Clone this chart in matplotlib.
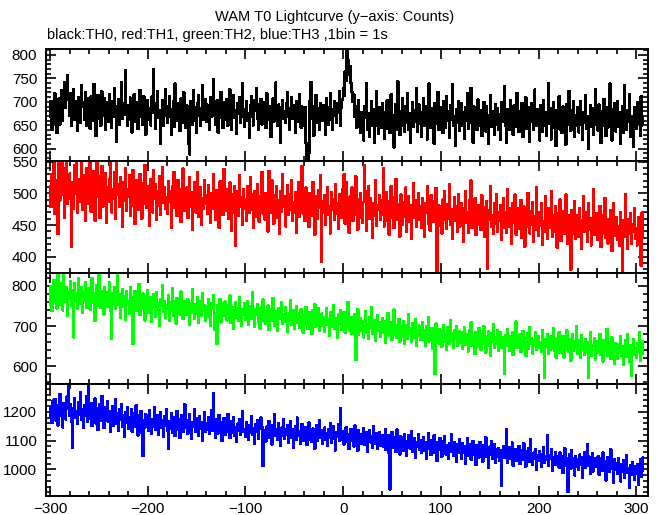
import numpy as np
import matplotlib
matplotlib.use("Agg")
import matplotlib.pyplot as plt
from matplotlib.ticker import MultipleLocator

plt.rcParams['font.family'] = ['Liberation Sans', 'DejaVu Sans']

# WAM T0 light curves, 1 bin = 1 s, first bin at t = -300 s
T_START = -300

th0 = [
    668, 702, 641, 690, 655, 718, 676, 633, 694, 707, 652, 681, 725, 660, 699, 742, 688, 731, 756, 704,
    671, 719, 648, 693, 726, 662, 701, 684, 639, 710, 677, 655, 735, 689, 700, 662, 721, 648, 690, 708,
    676, 643, 712, 694, 660, 738, 681, 627, 703, 715, 664, 689, 649, 722, 695, 671, 708, 640, 686, 699,
    658, 717, 682, 645, 701, 668, 730, 690, 614, 676, 705, 652, 687, 741, 663, 698, 672, 767, 684, 649,
    693, 661, 709, 679, 635, 688, 716, 657, 700, 674, 642, 696, 725, 668, 683, 651, 712, 689, 630, 670,
    704, 662, 687, 650, 711, 677, 769, 690, 643, 698, 722, 665, 682, 610, 676, 703, 649, 694, 728, 671,
    655, 690, 712, 668, 629, 684, 701, 646, 739, 679, 660, 697, 681, 638, 707, 672, 655, 720, 688, 644,
    693, 668, 611, 588, 702, 676, 651, 724, 689, 660, 633, 698, 715, 670, 648, 687, 736, 662, 681, 705,
    657, 694, 672, 641, 710, 683, 669, 748, 690, 652, 679, 703, 634, 688, 667, 721, 675, 645, 699, 680,
    662, 705, 649, 688, 727, 671, 640, 693, 715, 666, 682, 631, 698, 674, 709, 656, 690, 739, 668, 647,
    684, 701, 659, 676, 624, 692, 712, 668, 650, 703, 681, 729, 663, 640, 695, 677, 706, 652, 687, 671,
    699, 645, 718, 682, 661, 690, 625, 673, 707, 658, 688, 741, 670, 649, 694, 676, 612, 689, 703, 664,
    681, 655, 697, 720, 668, 640, 686, 709, 663, 692, 674, 633, 701, 658, 680, 716, 669, 645, 690, 672,
    650, 688, 612, 577, 574, 590, 701, 742, 663, 690, 628, 676, 715, 655, 687, 669, 641, 698, 680, 659,
    693, 666, 630, 707, 675, 652, 689, 718, 661, 640, 684, 702, 670, 655, 697, 676, 722, 648, 688, 705,
    730, 712, 765, 745, 812, 790, 758, 776, 741, 722, 700, 716, 668, 690, 645, 671, 704, 660, 633, 679,
    652, 618, 691, 667, 739, 640, 676, 625, 659, 702, 648, 684, 612, 665, 723, 650, 631, 688, 670, 644,
    697, 655, 621, 678, 642, 703, 660, 689, 634, 716, 651, 672, 603, 668, 695, 640, 744, 662, 629, 681,
    650, 707, 668, 636, 690, 655, 719, 641, 676, 612, 664, 699, 647, 682, 658, 730, 637, 671, 694, 653,
    626, 679, 708, 649, 665, 690, 620, 657, 739, 671, 644, 686, 660, 611, 698, 654, 677, 721, 640, 667,
    689, 652, 633, 701, 668, 645, 712, 659, 680, 624, 693, 661, 737, 648, 670, 606, 685, 656, 702, 639,
    664, 697, 650, 678, 621, 688, 659, 718, 642, 673, 655, 730, 667, 613, 690, 651, 676, 640, 705, 662,
    648, 683, 627, 669, 700, 655, 637, 691, 672, 611, 658, 714, 646, 680, 663, 629, 696, 652, 687, 641,
    674, 620, 699, 657, 666, 734, 649, 612, 685, 661, 640, 703, 655, 678, 630, 692, 664, 647, 719, 658,
    636, 681, 660, 698, 625, 671, 652, 710, 643, 666, 689, 614, 657, 697, 675, 640, 726, 662, 648, 684,
    655, 618, 692, 666, 637, 704, 650, 679, 628, 661, 740, 653, 687, 620, 670, 699, 645, 662, 606, 683,
    659, 712, 641, 677, 633, 690, 657, 668, 609, 695, 651, 723, 664, 638, 682, 654, 701, 626, 672, 648,
    688, 635, 665, 701, 650, 620, 679, 656, 714, 643, 670, 600, 661, 693, 647, 686, 630, 667, 728, 652,
    675, 639, 694, 658, 612, 681, 650, 706, 662, 627, 689, 645, 673, 739, 655, 618, 684, 660, 697, 637,
    664, 702, 646, 678, 611, 658, 691, 633, 735, 667, 640, 682, 657, 716, 625, 669, 650, 604, 688, 661,
    643, 699, 655, 677, 628, 712, 650, 668,
]

th1 = [
    512, 478, 530, 495, 547, 468, 521, 503, 436, 558, 489, 526, 571, 497, 540, 462, 515, 553, 484, 508,
    531, 492, 416, 518, 476, 545, 500, 562, 469, 523, 487, 510, 551, 474, 529, 498, 456, 540, 506, 483,
    520, 549, 471, 503, 535, 488, 457, 512, 566, 494, 527, 461, 508, 543, 479, 515, 499, 532, 453, 510,
    486, 522, 548, 470, 506, 491, 533, 460, 559, 497, 514, 478, 525, 503, 447, 518, 489, 540, 472, 507,
    495, 528, 465, 512, 481, 537, 500, 452, 521, 490, 509, 474, 530, 496, 460, 516, 483, 545, 502, 477,
    511, 488, 449, 523, 497, 470, 536, 492, 515, 458, 504, 480, 527, 466, 499, 541, 485, 510, 476, 494,
    468, 519, 487, 503, 446, 512, 491, 534, 477, 498, 464, 521, 485, 506, 455, 493, 539, 472, 501, 482,
    509, 461, 495, 526, 479, 502, 443, 488, 517, 470, 498, 533, 463, 486, 509, 451, 492, 476, 521, 484,
    497, 468, 513, 481, 454, 500, 475, 530, 489, 458, 505, 478, 492, 446, 519, 484, 502, 466, 538, 487,
    473, 506, 492, 460, 517, 484, 441, 499, 470, 512, 417, 488, 503, 465, 528, 479, 494, 451, 507, 476,
    490, 457, 511, 482, 469, 525, 474, 498, 446, 503, 481, 463, 515, 487, 455, 496, 472, 534, 468, 484,
    459, 501, 477, 440, 535, 486, 469, 520, 475, 452, 497, 483, 511, 462, 489, 436, 504, 471, 530, 478,
    495, 448, 482, 513, 466, 499, 474, 521, 457, 486, 470, 502, 438, 480, 517, 463, 491, 475, 543, 468,
    484, 456, 509, 471, 492, 447, 500, 478, 465, 518, 473, 435, 496, 481, 460, 505, 477, 529, 392, 488,
    470, 497, 451, 483, 510, 466, 479, 437, 502, 474, 490, 458, 515, 468, 485, 444, 499, 476, 461, 507,
    473, 530, 452, 518, 467, 480, 438, 495, 471, 509, 456, 484, 466, 527, 475, 443, 491, 462, 500, 478,
    454, 486, 545, 503, 441, 477, 512, 460, 493, 471, 430, 485, 465, 520, 449, 481, 474, 497, 458, 489,
    466, 540, 448, 479, 502, 457, 488, 435, 470, 511, 462, 494, 445, 476, 523, 459, 483, 467, 432, 498,
    471, 450, 486, 463, 509, 440, 477, 495, 455, 482, 428, 468, 516, 461, 489, 447, 474, 501, 458, 480,
    446, 493, 465, 431, 484, 470, 512, 452, 478, 441, 497, 463, 487, 455, 470, 508, 376, 462, 481, 449,
    472, 437, 490, 458, 503, 466, 444, 483, 460, 515, 451, 475, 429, 468, 494, 456, 480, 439, 499, 462,
    448, 485, 467, 424, 476, 503, 453, 471, 438, 489, 461, 520, 445, 473, 457, 492, 434, 466, 481, 450,
    469, 442, 497, 455, 478, 431, 463, 488, 381, 459, 474, 512, 447, 466, 436, 484, 452, 499, 440, 470,
    457, 481, 426, 464, 492, 445, 470, 438, 506, 459, 448, 476, 421, 485, 453, 467, 498, 435, 461, 477,
    444, 468, 489, 430, 457, 479, 416, 462, 447, 501, 455, 437, 472, 450, 486, 423, 464, 442, 509, 458,
    433, 471, 449, 485, 419, 456, 440, 495, 462, 428, 477, 446, 458, 503, 431, 465, 439, 480, 452, 414,
    468, 443, 490, 425, 455, 472, 436, 461, 498, 445, 420, 466, 451, 380, 474, 437, 459, 488, 428, 450,
    465, 432, 477, 446, 412, 458, 496, 439, 453, 470, 424, 484, 442, 461, 418, 455, 507, 434, 448, 469,
    427, 458, 441, 480, 415, 452, 436, 466, 493, 430, 447, 421, 460, 438, 474, 409, 450, 485, 433, 445,
    462, 426, 449, 417, 471, 439, 378, 457, 431, 498, 444, 412, 459, 436, 468, 420, 452, 440, 476, 428,
    445, 418, 463, 437, 455, 386, 470, 432,
]

th2 = [
    754, 800, 738, 782, 815, 761, 795, 744, 829, 770, 752, 808, 783, 739, 836, 776, 760, 797, 725, 787,
    768, 812, 750, 790, 672, 806, 763, 781, 742, 820, 771, 755, 798, 733, 785, 764, 810, 746, 778, 759,
    795, 741, 776, 820, 757, 783, 712, 769, 803, 750, 838, 774, 745, 788, 760, 729, 797, 766, 784, 748,
    771, 809, 737, 668, 782, 756, 798, 743, 765, 837, 752, 779, 720, 761, 793, 747, 775, 716, 788, 754,
    763, 731, 796, 749, 772, 655, 760, 787, 738, 770, 752, 805, 727, 766, 742, 781, 759, 714, 774, 745,
    790, 733, 756, 771, 711, 748, 779, 762, 724, 785, 740, 757, 700, 768, 750, 803, 735, 761, 721, 753,
    744, 776, 712, 759, 738, 795, 725, 763, 748, 706, 770, 741, 757, 729, 786, 746, 718, 762, 736, 751,
    728, 767, 745, 703, 758, 734, 791, 740, 719, 755, 730, 772, 708, 747, 763, 726, 782, 739, 752, 714,
    749, 723, 766, 737, 701, 756, 742, 778, 690, 731, 720, 655, 753, 744, 768, 709, 738, 757, 725, 761,
    733, 714, 752, 741, 776, 707, 729, 748, 694, 736, 760, 721, 745, 712, 771, 732, 700, 743, 727, 758,
    716, 739, 762, 703, 731, 749, 719, 784, 725, 697, 741, 728, 755, 710, 733, 694, 747, 722, 766, 711,
    737, 705, 728, 751, 690, 724, 743, 713, 770, 720, 701, 738, 726, 688, 745, 717, 731, 759, 706, 729,
    711, 746, 722, 685, 733, 714, 764, 703, 726, 740, 692, 719, 750, 708, 731, 696, 721, 742, 715, 684,
    727, 704, 748, 718, 693, 735, 710, 725, 680, 739, 706, 754, 698, 720, 712, 744, 689, 716, 731, 701,
    722, 686, 710, 745, 703, 718, 677, 734, 699, 714, 752, 693, 720, 708, 671, 729, 705, 740, 690, 713,
    700, 735, 684, 716, 697, 760, 709, 688, 722, 681, 711, 694, 729, 615, 706, 742, 678, 701, 719, 687,
    713, 672, 699, 736, 684, 705, 668, 721, 693, 747, 680, 700, 714, 663, 691, 726, 688, 709, 674, 697,
    720, 683, 702, 659, 715, 690, 733, 676, 698, 710, 665, 687, 741, 679, 703, 670, 692, 718, 661, 686,
    699, 674, 712, 656, 688, 703, 669, 729, 681, 695, 660, 707, 684, 672, 716, 652, 690, 677, 701, 665,
    683, 709, 667, 691, 650, 700, 676, 722, 662, 688, 671, 695, 643, 679, 581, 706, 668, 684, 657, 692,
    675, 649, 688, 703, 661, 680, 640, 697, 670, 656, 714, 664, 682, 646, 691, 668, 700, 652, 677, 688,
    659, 685, 643, 672, 696, 654, 681, 667, 637, 690, 662, 709, 650, 676, 664, 631, 686, 671, 648, 695,
    668, 641, 680, 657, 699, 663, 634, 676, 651, 688, 670, 626, 683, 660, 705, 645, 672, 655, 690, 638,
    661, 684, 647, 672, 655, 581, 678, 650, 693, 664, 639, 675, 658, 686, 628, 668, 652, 711, 645, 667,
    654, 679, 636, 663, 688, 649, 670, 625, 659, 682, 643, 698, 656, 671, 632, 666, 650, 684, 640, 662,
    676, 645, 661, 637, 690, 653, 571, 668, 649, 681, 630, 657, 674, 642, 663, 695, 638, 655, 621, 669,
    647, 684, 633, 660, 651, 676, 622, 658, 641, 689, 654, 635, 667, 614, 652, 680, 639, 662, 645, 700,
    631, 664, 648, 620, 677, 642, 656, 629, 668, 637, 659, 570, 646, 685, 625, 653, 640, 671, 617, 649,
    662, 634, 655, 680, 628, 647, 612, 666, 639, 651, 693, 626, 644, 660, 618, 672, 636, 649, 606, 658,
    641, 619, 656, 633, 675, 627, 650, 603, 645, 664, 624, 681, 638, 612, 653, 575, 642, 668, 629, 646,
    620, 657, 636, 685, 614, 649, 631, 662,
]

th3 = [
    1178, 1215, 1161, 1239, 1196, 1244, 1170, 1225, 1153, 1208, 1262, 1187, 1219, 1146, 1231, 1200, 1174, 1253, 1210, 1293,
    1187, 1226, 1166, 1076, 1213, 1248, 1180, 1202, 1157, 1234, 1191, 1268, 1172, 1209, 1145, 1222, 1186, 1255, 1164, 1291,
    1198, 1175, 1232, 1150, 1204, 1181, 1246, 1160, 1213, 1137, 1190, 1227, 1168, 1255, 1179, 1143, 1216, 1192, 1170, 1238,
    1164, 1201, 1129, 1185, 1220, 1152, 1176, 1244, 1159, 1195, 1133, 1208, 1171, 1226, 1148, 1187, 1112, 1199, 1163, 1218,
    1140, 1182, 1157, 1210, 1131, 1174, 1196, 1149, 1223, 1165, 1118, 1187, 1154, 1203, 1128, 1046, 1170, 1145, 1192, 1160,
    1181, 1135, 1206, 1158, 1123, 1175, 1149, 1217, 1139, 1166, 1190, 1121, 1160, 1199, 1144, 1171, 1113, 1185, 1152, 1208,
    1133, 1071, 1168, 1142, 1195, 1127, 1159, 1180, 1115, 1156, 1203, 1138, 1174, 1109, 1162, 1188, 1130, 1151, 1226, 1143,
    1170, 1124, 1157, 1192, 1136, 1106, 1165, 1147, 1210, 1131, 1177, 1152, 1118, 1185, 1140, 1163, 1100, 1154, 1199, 1129,
    1161, 1138, 1180, 1122, 1149, 1206, 1133, 1265, 1142, 1110, 1173, 1150, 1125, 1189, 1137, 1164, 1098, 1146, 1178, 1119,
    1155, 1130, 1193, 1141, 1108, 1167, 1126, 1150, 1183, 1116, 1145, 1096, 1159, 1134, 1176, 1121, 1148, 1202, 1129, 1140,
    1114, 1163, 1137, 1101, 1152, 1128, 1185, 1120, 1143, 1088, 1158, 1131, 1171, 1106, 1139, 1160, 1180, 1146, 1011, 1125,
    1136, 1097, 1149, 1122, 1168, 1110, 1133, 1087, 1155, 1127, 1191, 1115, 1140, 1102, 1162, 1124, 1081, 1145, 1118, 1173,
    1107, 1138, 1120, 1154, 1093, 1129, 1166, 1111, 1141, 1076, 1125, 1150, 1103, 1180, 1116, 1134, 1089, 1121, 1158, 1100,
    1131, 1112, 1147, 1085, 1120, 1163, 1104, 1137, 1095, 1142, 1118, 1072, 1128, 1153, 1099, 1124, 1170, 1108, 1136, 1090,
    1119, 1145, 1101, 1127, 1083, 1139, 1110, 1161, 1092, 1125, 1149, 1105, 1066, 1130, 1114, 1156, 1098, 1214, 1121, 1103,
    1132, 1087, 1116, 1146, 1095, 1123, 1071, 1109, 1140, 1098, 1127, 1080, 1152, 1106, 1118, 1064, 1135, 1101, 1124, 1090,
    1113, 1143, 1085, 1107, 1128, 1062, 1099, 1136, 1094, 1117, 1076, 1149, 1089, 1110, 1125, 1070, 1104, 1131, 1083, 1097,
    1120, 1079, 1108, 1141, 1067, 1096, 1118, 1055, 930, 1102, 1129, 1074, 1093, 1112, 1060, 1138, 1086, 1100, 1052, 1115,
    1081, 1106, 1065, 1124, 1090, 1047, 1098, 1119, 1073, 1093, 1133, 1061, 1088, 1108, 1040, 1095, 1077, 1121, 1069, 1101,
    1058, 1087, 1112, 1064, 1096, 1037, 1080, 1126, 1071, 1092, 1049, 1103, 1075, 1118, 1056, 1085, 1029, 1094, 1068, 1110,
    1077, 1044, 1099, 1065, 1117, 1052, 1083, 1071, 1035, 1091, 1060, 1122, 1074, 1048, 1095, 1066, 1026, 1087, 1058, 1104,
    1069, 1038, 1092, 1057, 1081, 1020, 1073, 1109, 1046, 1064, 1088, 1033, 1076, 1099, 1051, 1070, 1015, 1085, 1062, 1041,
    1094, 1055, 1072, 1027, 1083, 1060, 1112, 1043, 1066, 1004, 1079, 1050, 1097, 1036, 1063, 1088, 1024, 1070, 1045, 1075,
    1031, 1068, 941, 1054, 1082, 1040, 1061, 1141, 1022, 1058, 1077, 1035, 1049, 1093, 1012, 1064, 1041, 1071, 1028, 1056,
    1080, 1019, 1047, 1066, 1033, 1090, 1052, 1009, 1062, 1039, 1074, 1026, 1105, 1045, 1015, 1058, 1036, 1071, 998, 1049,
    1028, 1063, 1041, 1007, 1054, 1078, 1021, 1046, 1033, 1119, 1011, 1050, 1037, 1069, 995, 1043, 1026, 1060, 1014, 1047,
    1032, 1006, 1058, 1024, 1045, 987, 1036, 1073, 1013, 1040, 921, 1029, 1052, 1002, 1066, 1019, 1038, 979, 1047, 1010,
    1035, 998, 1051, 1017, 1042, 969, 1026, 1061, 1004, 1031, 1089, 1012, 1044, 985, 1022, 1057, 993, 1038, 1008, 1029,
    1015, 1046, 982, 1020, 1037, 994, 1058, 1009, 1027, 961, 1013, 1042, 990, 1024, 1069, 1001, 1018, 952, 1034, 997,
    1021, 985, 1040, 1006, 958, 1017, 993, 1031, 970, 1012, 1049, 988, 1003, 935, 1015, 980, 1026, 999, 964, 1010,
    984, 1019, 946, 1002, 1036, 975, 993, 1041,
]

series = [th0, th1, th2, th3]
colors = ['black', '#ff0000', '#00ff00', '#0000ff']
ylims = [(574, 812), (375, 551), (555, 833), (907, 1296)]
ymajor = [50, 50, 100, 100]
yminor = [10, 10, 20, 20]

W, H = 661, 515
fig = plt.figure(figsize=(W / 100, H / 100), dpi=100)

left_px, right_px = 45.7, 648
top_px, bottom_px = 49.3, 496
panel_h = (bottom_px - top_px) / 4

for i, (vals, col) in enumerate(zip(series, colors)):
    y0 = top_px + (i + 1) * panel_h
    ax = fig.add_axes([left_px / W, 1 - y0 / H, (right_px - left_px) / W, panel_h / H])
    t = np.arange(len(vals)) + T_START
    ax.plot(t, vals, color=col, lw=1.0, drawstyle='steps-mid', antialiased=False)
    ax.set_xlim(-304.5, 312)
    ax.set_ylim(*ylims[i])
    ax.xaxis.set_major_locator(MultipleLocator(100))
    ax.xaxis.set_minor_locator(MultipleLocator(20))
    ax.yaxis.set_major_locator(MultipleLocator(ymajor[i]))
    ax.yaxis.set_minor_locator(MultipleLocator(yminor[i]))
    ax.tick_params(which='both', direction='in', top=True, right=True, width=1.2,
                   labelsize=11, colors='black')
    ax.tick_params(which='major', length=7)
    ax.tick_params(which='minor', length=3.5)
    ax.tick_params(axis='y', pad=6)
    ax.tick_params(axis='x', pad=4)
    for s in ax.spines.values():
        s.set_linewidth(1.4)
    if i < 3:
        ax.tick_params(labelbottom=False)

fig.text(335 / W, 1 - 17 / H, 'WAM T0 Lightcurve (y\u2212axis: Counts)',
         ha='center', va='center', fontsize=10.5)
fig.text(47 / W, 1 - 35 / H, 'black:TH0, red:TH1, green:TH2, blue:TH3 ,1bin = 1s',
         ha='left', va='center', fontsize=10.5)

fig.savefig('out.png', dpi=100)
